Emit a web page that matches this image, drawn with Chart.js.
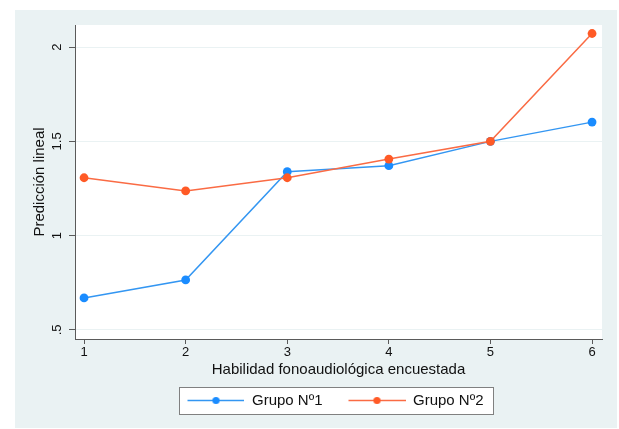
<!DOCTYPE html>
<html>
<head>
<meta charset="utf-8">
<script src="https://cdn.jsdelivr.net/npm/chart.js@4/dist/chart.umd.min.js"></script>
<style>
  html, body { margin: 0; padding: 0; background: #ffffff; }
  #chart { display: block; }
</style>
</head>
<body>
<canvas id="chart" width="619" height="429"></canvas>
<script>
// Skill levels asked about (x axis)
const categories = [1, 2, 3, 4, 5, 6];
// Linear predictions per group
const grupo1 = [0.67, 0.765, 1.339, 1.371, 1.5, 1.602];
const grupo2 = [1.307, 1.237, 1.307, 1.406, 1.5, 2.072];
const seriesNames = ['Grupo Nº1', 'Grupo Nº2'];
// Y tick values and their printed labels
const yTickValues = [0.5, 1, 1.5, 2];
const yTickLabels = ['.5', '1', '1.5', '2'];

const FONT = "'Liberation Sans', Arial, Helvetica, sans-serif";
const PANEL = '#eaf2f3';
const AXIS = '#5a5a5a';
const TEXT = '#111111';
const BLUE_LINE = '#3396f2', BLUE_DOT = '#1a8cff';
const RED_LINE = '#fa6b44', RED_DOT = '#ff5a26';

// Legend key: a short line with a marker in the middle, with blank room on the left
function legendKey(lineColor, dotColor) {
  const c = document.createElement('canvas');
  c.width = 73; c.height = 15;
  const g = c.getContext('2d');
  g.strokeStyle = lineColor;
  g.lineWidth = 1.6;
  g.beginPath(); g.moveTo(16, 7.5); g.lineTo(73, 7.5); g.stroke();
  g.fillStyle = dotColor;
  g.beginPath(); g.arc(44.5, 7.5, 3.6, 0, Math.PI * 2); g.fill();
  return c;
}
const keys = [legendKey(BLUE_LINE, BLUE_DOT), legendKey(RED_LINE, RED_DOT)];

const backdrop = {
  id: 'backdrop',
  afterLayout(chart) {
    // centre the legend row under the plot region
    const lg = chart.legend;
    lg.left -= 11; lg.right -= 11;
  },
  beforeDraw(chart) {
    const ctx = chart.ctx, a = chart.chartArea;
    ctx.save();
    ctx.fillStyle = '#ffffff';
    ctx.fillRect(0, 0, chart.width, chart.height);
    ctx.fillStyle = PANEL;
    ctx.fillRect(15, 10, chart.width - 17, chart.height - 11);
    ctx.fillStyle = '#ffffff';
    ctx.fillRect(a.left, a.top, a.right - a.left, a.bottom - a.top);
    // legend frame
    const hb = chart.legend.legendHitBoxes;
    if (hb && hb.length) {
      const l = hb[0].left + 16 - 8;
      const last = hb[hb.length - 1];
      const r = last.left + last.width + 10;
      const t = hb[0].top - 6;
      const b = hb[0].top + hb[0].height + 6;
      ctx.fillStyle = '#ffffff';
      ctx.fillRect(l, t, r - l, b - t);
      ctx.strokeStyle = '#808080';
      ctx.lineWidth = 1;
      ctx.strokeRect(Math.round(l) + 0.5, Math.round(t) + 0.5, Math.round(r - l), Math.round(b - t));
    }
    ctx.restore();
  }
};

new Chart(document.getElementById('chart'), {
  type: 'line',
  data: {
    datasets: [
      {
        label: seriesNames[0],
        data: categories.map((c, i) => ({ x: c, y: grupo1[i] })),
        borderColor: BLUE_LINE, backgroundColor: BLUE_DOT,
        pointBackgroundColor: BLUE_DOT, pointBorderWidth: 0,
        pointRadius: 4.4, borderWidth: 1.5, tension: 0, order: 2
      },
      {
        label: seriesNames[1],
        data: categories.map((c, i) => ({ x: c, y: grupo2[i] })),
        borderColor: RED_LINE, backgroundColor: RED_DOT,
        pointBackgroundColor: RED_DOT, pointBorderWidth: 0,
        pointRadius: 4.4, borderWidth: 1.5, tension: 0, order: 1
      }
    ]
  },
  options: {
    responsive: false,
    animation: false,
    devicePixelRatio: 1,
    layout: { padding: { left: 15, right: 17, top: 25, bottom: 11 } },
    plugins: {
      tooltip: { enabled: false },
      legend: {
        position: 'bottom',
        fullSize: false,
        labels: {
          usePointStyle: true,
          pointStyleWidth: 73,
          boxHeight: 15,
          padding: 10,
          color: TEXT,
          font: { family: FONT, size: 15 },
          generateLabels(chart) {
            const items = Chart.defaults.plugins.legend.labels.generateLabels(chart);
            items.sort((p, q) => p.datasetIndex - q.datasetIndex);
            items.forEach(it => { it.pointStyle = keys[it.datasetIndex]; });
            return items;
          }
        }
      }
    },
    scales: {
      x: {
        type: 'linear',
        min: 0.911, max: 6.098,
        afterBuildTicks: s => { s.ticks = categories.map(v => ({ value: v })); },
        afterFit: s => { s.height = 44; },
        ticks: {
          autoSkip: false, maxRotation: 0,
          callback: v => String(v),
          color: TEXT, font: { family: FONT, size: 13 }, padding: 1
        },
        grid: { drawOnChartArea: false, drawTicks: true, tickLength: 5, tickColor: AXIS, tickWidth: 1 },
        border: { display: true, color: AXIS, width: 1 },
        title: {
          display: true, text: 'Habilidad fonoaudiológica encuestada',
          color: TEXT, font: { family: FONT, size: 15 },
          padding: { top: 0, bottom: 4 }
        }
      },
      y: {
        type: 'linear',
        min: 0.452, max: 2.117,
        afterBuildTicks: s => { s.ticks = yTickValues.map(v => ({ value: v })); },
        afterFit: s => { s.width = 60; },
        ticks: {
          autoSkip: false,
          minRotation: 90, maxRotation: 90,
          crossAlign: 'center',
          padding: 3,
          callback: (v, i) => yTickLabels[i],
          color: TEXT, font: { family: FONT, size: 13 }
        },
        grid: { color: PANEL, lineWidth: 1, drawTicks: true, tickLength: 6, tickColor: AXIS, tickWidth: 1 },
        border: { display: true, color: AXIS, width: 1 },
        title: {
          display: true, text: 'Predicción lineal',
          color: TEXT, font: { family: FONT, size: 15 },
          padding: { top: 16, bottom: 0 }
        }
      }
    }
  },
  plugins: [backdrop]
});
</script>
</body>
</html>
